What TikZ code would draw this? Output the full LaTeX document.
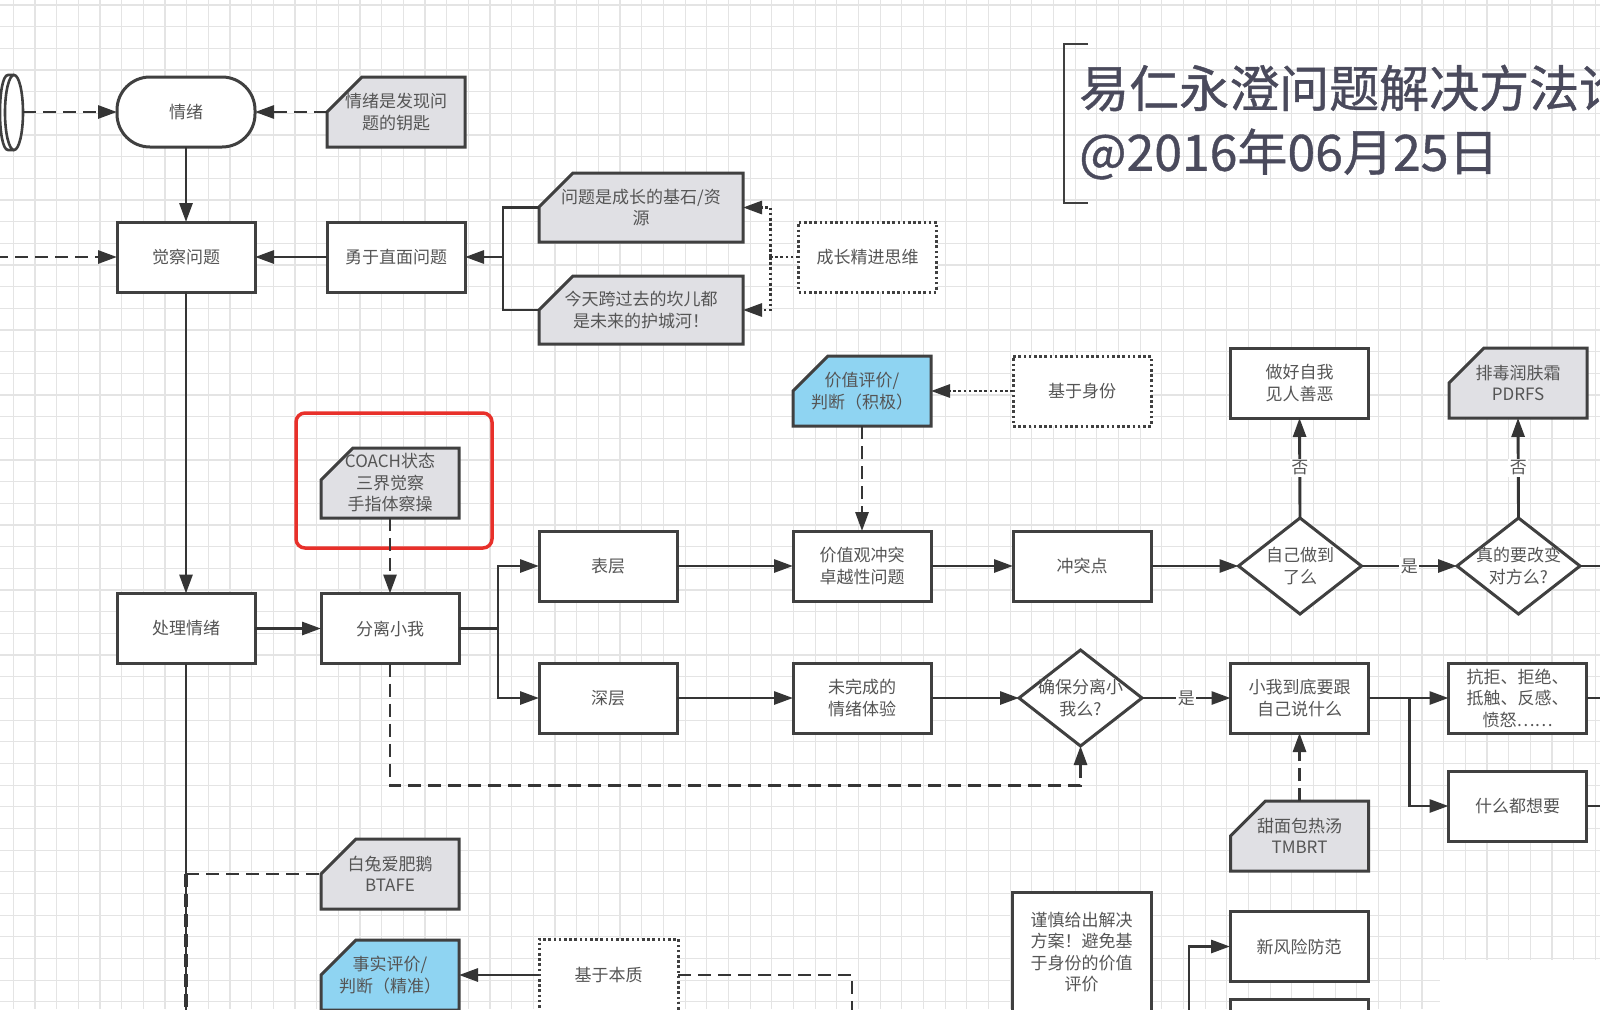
\documentclass[tikz,border=0pt]{standalone}
\usepackage{fontspec}
\usetikzlibrary{arrows.meta,shapes.geometric,calc}
\newfontfamily\cjk{Noto Sans CJK SC}
\newfontfamily\cjkt[FakeBold=0.8]{Noto Sans CJK SC}
\definecolor{gridc}{HTML}{E4E4E4}
\definecolor{boxc}{HTML}{404040}
\definecolor{linec}{HTML}{353535}
\definecolor{txtc}{HTML}{555555}
\definecolor{grayf}{HTML}{E0E0E4}
\definecolor{bluef}{HTML}{8FD4F2}
\definecolor{redc}{HTML}{E8302A}
\definecolor{titlec}{HTML}{4A4A5C}
\pgfdeclarelayer{gridlayer}
\pgfdeclarelayer{shapelayer}
\pgfsetlayers{gridlayer,shapelayer,main}
\newcommand\myboxfont{\cjk\fontsize{17}{21.5}\selectfont}
\newcommand\notecut[3]{\begin{pgfonlayer}{shapelayer}\draw[draw=boxc,line width=3pt,fill=#2,line join=miter] ([yshift=-#3]#1.north west) -- ([xshift=#3]#1.north west) -- (#1.north east) -- (#1.south east) -- (#1.south west) -- cycle;\end{pgfonlayer}}
\tikzset{
 box/.style={draw=boxc, line width=3pt, fill=white, minimum width=138pt, minimum height=70pt, inner sep=0pt, outer sep=0pt, align=center, font=\myboxfont, text=txtc},
 notebox/.style={box, draw=none, fill=none},
 dotbox/.style={box, dash pattern=on 2.6pt off 2.6pt},
 dia/.style={diamond, draw=boxc, line width=3pt, fill=white, minimum width=123pt, minimum height=96pt, inner sep=0pt, outer sep=0pt, aspect=1.28},
 txt/.style={align=center, font=\myboxfont, text=txtc, inner sep=0pt},
 conn/.style={draw=linec, line width=2.9pt},
 arr/.style={conn, -{Triangle[length=19pt,width=13pt]}},
 dashc/.style={conn, dash pattern=on 13pt off 7pt},
 dasharr/.style={arr, dash pattern=on 13pt off 7pt},
 dotc/.style={conn, dash pattern=on 2.6pt off 2.6pt},
 dotarr/.style={arr, dash pattern=on 2.6pt off 2.6pt},
 lbl/.style={fill=white, inner sep=1.5pt, font=\myboxfont, text=txtc},
}
\begin{document}
\begin{tikzpicture}[x=1pt,y=-1pt]
\useasboundingbox (0,0) rectangle (1600,1009);
\clip (0,0) rectangle (1600,1009);
\begin{pgfonlayer}{gridlayer}
\fill[white] (0,0) rectangle (1600,1009);
\foreach \i in {0,...,73} \draw[gridc, line width=1.2pt] ({13.33+21.67*\i},0) -- ({13.33+21.67*\i},1009);
\foreach \j in {0,...,46} \draw[gridc, line width=1.2pt] (0,{4.99+21.67*\j}) -- (1600,{4.99+21.67*\j});
\fill[white] (1440,960) rectangle (1600,1009);
\end{pgfonlayer}

% title
\draw[boxc, line width=2.6pt] (1088,44) -- (1064,44) -- (1064,203) -- (1088,203);
\node[anchor=west, inner sep=0pt, font=\cjkt\fontsize{50}{60}\selectfont, text=titlec] (title1) at (1079,88) {易仁永澄问题解决方法论};
\node[anchor=west, inner sep=0pt, font=\cjkt\fontsize{50}{60}\selectfont, text=titlec] (title2) at (1079,154) {@2016年06月25日};

% cylinder end at left
\draw[boxc, line width=2.6pt, fill=white] (14,75) -- (8,75) .. controls (-2.7,75) and (-2.7,150) .. (8,150) -- (14,150);
\draw[boxc, line width=2.6pt, fill=white] (14,112.5) ellipse [x radius=9pt, y radius=37.5pt];
\coordinate (cylr) at (23,112);

% nodes
\node[box, rounded corners=33pt] (qingxu) at (186,112) {情绪};
\node[notebox] (note1) at (396,112) {情绪是发现问\\题的钥匙}; \notecut{note1}{grayf}{35pt}
\node[box] (juecha) at (186,257) {觉察问题};
\node[box] (yongyu) at (396,257) {勇于直面问题};
\node[notebox, minimum width=204pt, minimum height=69pt] (wenti) at (641,207.5) {问题是成长的基石/资\\源}; \notecut{wenti}{grayf}{34pt}
\node[notebox, minimum width=204pt, minimum height=68pt] (jintian) at (641,310) {今天跨过去的坎儿都\\是未来的护城河！}; \notecut{jintian}{grayf}{34pt}
\node[dotbox] (chengzhang) at (867.5,257) {成长精进思维};
\node[notebox] (jiazhi) at (862,391) {价值评价/\\判断（积极）}; \notecut{jiazhi}{bluef}{35pt}
\node[dotbox] (shenfen) at (1082,391) {基于身份};
\node[box] (zuohao) at (1299.5,383) {做好自我\\见人善恶};
\node[notebox] (paidu) at (1518,383) {排毒润肤霜\\PDRFS}; \notecut{paidu}{grayf}{35pt}
\node[draw=redc, line width=3.5pt, rounded corners=9pt, minimum width=196pt, minimum height=135pt, inner sep=0pt] (redbox) at (394,480.5) {};
\node[notebox] (coach) at (390,483) {COACH状态\\三界觉察\\手指体察操}; \notecut{coach}{grayf}{32pt}
\node[box] (biaoceng) at (608,566) {表层};
\node[box] (chongtu) at (862,566) {价值观冲突\\卓越性问题};
\node[box] (ctd) at (1082,566) {冲突点};
\node[dia] (d1) at (1300,566) {}; \node[txt] (d1t) at (d1) {自己做到\\了么};
\node[dia] (d2) at (1518.5,566) {}; \node[txt] (d2t) at (d2) {真的要改变\\对方么?};
\node[box] (chuli) at (186,628.5) {处理情绪};
\node[box] (fenli) at (390,628.5) {分离小我};
\node[box] (shenceng) at (608,698) {深层};
\node[box] (weiwan) at (862,698) {未完成的\\情绪体验};
\node[dia] (d3) at (1080.5,698) {}; \node[txt] (d3t) at (d3) {确保分离小\\我么?};
\node[box] (xiaowo) at (1299.5,698) {小我到底要跟\\自己说什么};
\node[box] (kangju) at (1517.5,698) {抗拒、拒绝、\\抵触、反感、\\愤怒……};
\node[box] (shenme) at (1517.5,806) {什么都想要};
\node[notebox] (tianmian) at (1299.5,836) {甜面包热汤\\TMBRT}; \notecut{tianmian}{grayf}{35pt}
\node[notebox] (baitu) at (390,874) {白兔爱肥鹅\\BTAFE}; \notecut{baitu}{grayf}{35pt}
\node[notebox] (shishi) at (390,975) {事实评价/\\判断（精准）}; \notecut{shishi}{bluef}{35pt}
\node[dotbox, minimum width=139pt, minimum height=72pt] (benzhi) at (608.5,975) {基于本质};
\node[box, minimum width=139pt, minimum height=120pt] (jinshen) at (1081.5,952) {谨慎给出解决\\方案！避免基\\于身份的价值\\评价};
\node[box] (xinfx) at (1299,946.5) {新风险防范};
\node[box, minimum height=72pt] (lastbox) at (1299,1035) {};

% free ends
\coordinate (lefte) at (-5,257);
\coordinate (bot1) at (186,1020);
\coordinate (br) at ($(yongyu.east)+(38,0)$);
\coordinate (cz) at ($(chengzhang.west)+(-28,0)$);
\coordinate (fj) at ($(fenli.east)+(39,0)$);
\coordinate (xj) at ($(xiaowo.east)+(41,0)$);
\coordinate (e1) at (1610,566);
\coordinate (e2) at (1610,698);
\coordinate (e3) at (1610,806);
\coordinate (bz) at (852,975);
\coordinate (bz2) at (852,1020);
\coordinate (xf) at (1189,1020);
\coordinate (bt) at (chuli.south |- baitu.west);

% connectors
\draw[dasharr] (cylr) -- (qingxu.west);
\draw[dasharr] (note1.west) -- (qingxu.east);
\draw[arr] (qingxu.south) -- (juecha.north);
\draw[dasharr] (lefte) -- (juecha.west);
\draw[arr] (yongyu.west) -- (juecha.east);
\draw[conn] (wenti.west) -| (br) |- (jintian.west);
\draw[arr] (br) -- (yongyu.east);
\draw[dotc] (chengzhang.west) -- (cz);
\draw[dotarr] (cz) |- (wenti.east);
\draw[dotarr] (cz) |- (jintian.east);
\draw[arr] (juecha.south) -- (chuli.north);
\draw[conn] (chuli.south) -- (bot1);
\draw[dashc, line width=3.1pt] (bt) -- (bot1);
\draw[dashc] (bt) -- (baitu.west);
\draw[arr] (chuli.east) -- (fenli.west);
\draw[dasharr] (coach.south) -- (fenli.north);
\draw[conn] (fenli.east) -- (fj);
\draw[arr] (fj) |- (biaoceng.west);
\draw[arr] (fj) |- (shenceng.west);
\draw[arr] (biaoceng.east) -- (chongtu.west);
\draw[dotarr] (shenfen.west) -- (jiazhi.east);
\draw[dasharr] (jiazhi.south) -- (chongtu.north);
\draw[arr] (chongtu.east) -- (ctd.west);
\draw[arr] (ctd.east) -- (d1.west);
\draw[arr] (d1.east) -- node[lbl] (l1) {是} (d2.west);
\draw[arr] (d1.north) -- node[lbl] (l2) {否} (zuohao.south);
\draw[arr] (d2.north) -- node[lbl] (l3) {否} (paidu.south);
\draw[conn] (d2.east) -- (e1);
\draw[arr] (shenceng.east) -- (weiwan.west);
\draw[arr] (weiwan.east) -- (d3.west);
\draw[dasharr] (fenli.south) -- ++(0,122) -| (d3.south);
\draw[arr] (d3.east) -- node[lbl] (l4) {是} (xiaowo.west);
\draw[dasharr] (tianmian.north) -- (xiaowo.south);
\draw[arr] (xiaowo.east) -- (kangju.west);
\draw[arr] (xj) |- (shenme.west);
\draw[conn] (kangju.east) -- (e2);
\draw[conn] (shenme.east) -- (e3);
\draw[arr] (benzhi.west) -- (shishi.east);
\draw[dashc] (benzhi.east) -- (bz) -- (bz2);
\draw[arr] (xf) |- (xinfx.west);
\end{tikzpicture}
\end{document}
